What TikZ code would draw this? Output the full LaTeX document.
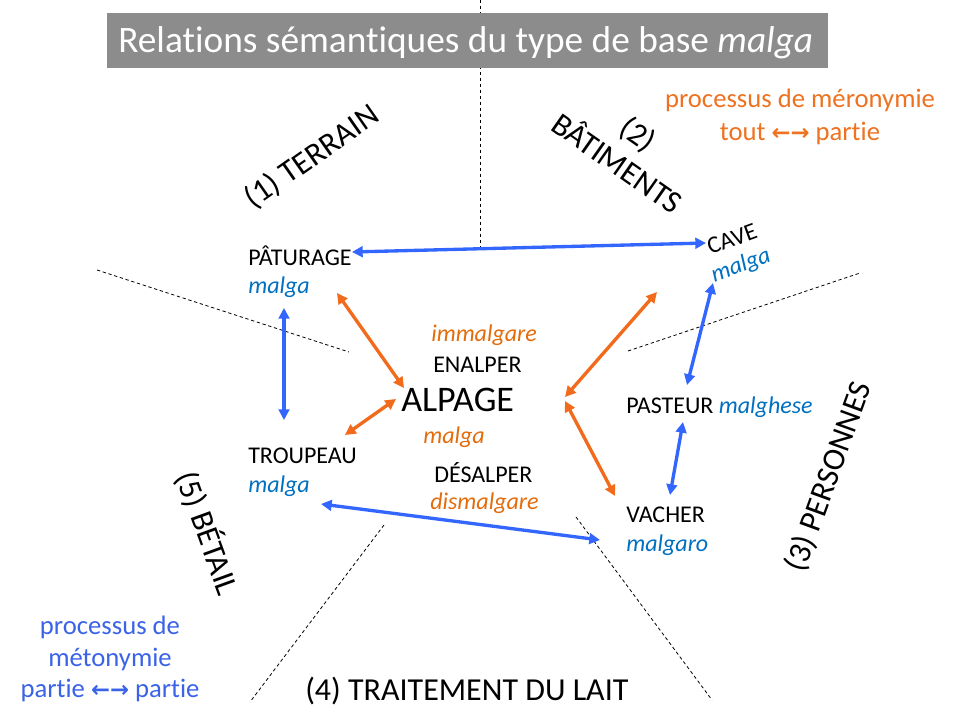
\documentclass[tikz,border=0pt]{standalone}
\usepackage{fontspec}
\setmainfont[Ligatures=NoCommon]{Carlito}
\newfontfamily\arrfont{DejaVu Sans}
\usetikzlibrary{arrows.meta}
\definecolor{titlegray}{HTML}{8C8C8C}
\definecolor{arrblue}{HTML}{3366FF}
\definecolor{txtblue}{HTML}{0070C0}
\definecolor{arrorange}{HTML}{F26B1D}
\definecolor{txtorange}{HTML}{E46C0A}
\definecolor{noteblue}{HTML}{3B63E8}
\definecolor{noteorange}{HTML}{EE7220}
\begin{document}
\begin{tikzpicture}[x=0.75pt,y=-0.75pt,
  word/.style={font=\fontsize{18}{21}\selectfont, inner sep=0pt, anchor=base west},
  bword/.style={word, text=txtblue, font=\fontsize{18}{21}\selectfont\itshape},
  oword/.style={word, text=txtorange, font=\fontsize{18}{21}\selectfont\itshape},
  section/.style={font=\fontsize{24}{27}\selectfont, inner sep=0pt, align=center},
  note/.style={font=\fontsize{20}{24}\selectfont, inner sep=0pt, anchor=base},
  spoke/.style={draw=black, line width=0.6pt, dash pattern=on 2.5pt off 2pt},
  barr/.style={draw=arrblue, line width=2.5pt, {Triangle[length=8pt,width=8pt]}-{Triangle[length=8pt,width=8pt]}},
  oarr/.style={draw=arrorange, line width=2.5pt, {Triangle[length=8pt,width=8pt]}-{Triangle[length=8pt,width=8pt]}}
]
\useasboundingbox (0,0) rectangle (960,720);
\fill[white] (0,0) rectangle (960,720);

% dashed spokes
\draw[spoke] (480,0) -- (480,250);
\draw[spoke] (97,270) -- (349,352);
\draw[spoke] (628,351) -- (860,273);
\draw[spoke] (384,525) -- (250,702);
\draw[spoke] (576,517) -- (712,700);

% title
\node[fill=titlegray, minimum width=721*0.75pt, minimum height=55*0.75pt, inner sep=0pt, anchor=north west] (titlebox) at (107,13) {};
\node[font=\fontsize{28}{32}\selectfont, text=white, inner sep=0pt, anchor=base west] (title) at (118,53) {Relations sémantiques du type de base \textit{malga}};

% words
\node[word] (patur) at (248,266) {PÂTURAGE};
\node[bword] (paturm) at (248,294) {malga};
\node[word] (troup) at (248,463) {TROUPEAU};
\node[bword] (troupm) at (248,492) {malga};
\node[word] (past) at (626,413) {PASTEUR \textcolor{txtblue}{\itshape malghese}};
\node[word] (vach) at (626,522) {VACHER};
\node[bword] (vachm) at (626,551) {malgaro};
\node[oword] (immal) at (431,341) {immalgare};
\node[word] (enal) at (433,372) {ENALPER};
\node[word, font=\fontsize{27}{30}\selectfont] (alpage) at (401,411) {ALPAGE};
\node[oword] (alpm) at (423,443) {malga};
\node[word] (desal) at (434,482) {DÉSALPER};
\node[oword] (dismal) at (430,509) {dismalgare};
\node[font=\fontsize{18}{21}\selectfont, inner sep=0pt, rotate=20] (cave) at (732,239) {CAVE};
\node[font=\fontsize{18}{21}\selectfont\itshape, text=txtblue, inner sep=0pt, rotate=20] (cavem) at (741,266) {malga};

% section labels
\node[section, rotate=35] (s1) at (312,157) {(1) TERRAIN};
\node[section, rotate=-35] (s2) at (628,148) {(2)\\BÂTIMENTS};
\node[section, rotate=70] (s3) at (829,477) {(3) PERSONNES};
\node[section, anchor=base west] (s4) at (305,700) {(4) TRAITEMENT DU LAIT};
\node[section, rotate=-70] (s5) at (208,533) {(5) BÉTAIL};

% notes
\node[note, text=noteorange] (mero1) at (800,108) {processus de méronymie};
\node[note, text=noteorange] (mero2) at (800,141) {tout {\arrfont\bfseries\fontsize{17}{20}\selectfont ←→} partie};
\node[note, text=noteblue] (meto1) at (110,634) {processus de};
\node[note, text=noteblue] (meto2) at (110,666) {métonymie};
\node[note, text=noteblue] (meto3) at (110,697) {partie {\arrfont\bfseries\fontsize{17}{20}\selectfont ←→} partie};

% arrow end points
\coordinate (a1) at (352,252); \coordinate (b1) at (706,243);
\coordinate (a2) at (284,308); \coordinate (b2) at (284,420);
\coordinate (a3) at (337,293); \coordinate (b3) at (404,388);
\coordinate (a4) at (396,399); \coordinate (b4) at (345,435);
\coordinate (a5) at (321,504); \coordinate (b5) at (600,540);
\coordinate (a6) at (565,397); \coordinate (b6) at (657,292);
\coordinate (a7) at (565,401); \coordinate (b7) at (615,496);
\coordinate (a8) at (687,385); \coordinate (b8) at (713,283);
\coordinate (a9) at (683,422); \coordinate (b9) at (670,495);

\draw[barr] (a1) -- (b1);
\draw[barr] (a2) -- (b2);
\draw[oarr] (a3) -- (b3);
\draw[oarr] (a4) -- (b4);
\draw[barr] (a5) -- (b5);
\draw[oarr] (a6) -- (b6);
\draw[oarr] (a7) -- (b7);
\draw[barr] (a8) -- (b8);
\draw[barr] (a9) -- (b9);
\end{tikzpicture}
\end{document}
